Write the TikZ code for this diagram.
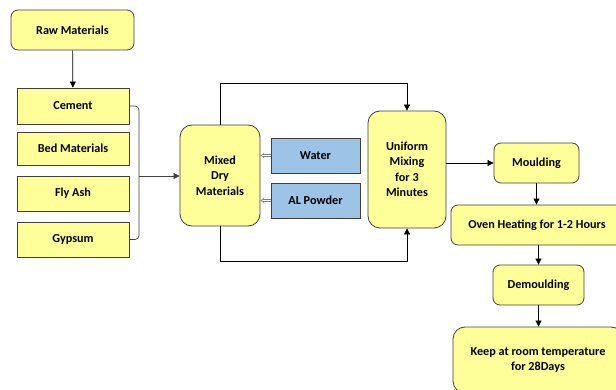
\documentclass[tikz,border=0pt]{standalone}
\usepackage{fontspec}
\setmainfont{Carlito}
\usetikzlibrary{arrows.meta}

\definecolor{boxyellow}{HTML}{FFFF99}
\definecolor{boxblue}{HTML}{9DC3E6}
\definecolor{boxline}{HTML}{3F3F3F}

\begin{document}
\begin{tikzpicture}[x=1pt,y=-1pt,
    font=\fontsize{12.2}{15.5}\selectfont\bfseries,
    stepbox/.style={draw=boxline,line width=0.8pt,fill=boxyellow,rounded corners=7pt,align=center,inner sep=0pt},
    itembox/.style={draw=boxline,line width=0.8pt,fill=boxyellow,inner sep=0pt,align=center},
    addbox/.style={draw=boxline,line width=0.8pt,fill=boxblue,inner sep=0pt,align=center},
    flow/.style={line width=0.7pt,-{Triangle[length=6pt,width=6pt]}},
    feed/.style={draw=gray,double=white,double distance=1.4pt,line width=0.6pt,-{Implies}}]
    \useasboundingbox (0,0) rectangle (616,390);
    \fill[white] (0,0) rectangle (616,390);

    % raw materials and the four components
    \node[stepbox,minimum width=123pt,minimum height=40pt] (raw) at (72.5,30) {Raw Materials};
    \node[itembox,minimum width=112pt,minimum height=36pt] (cement) at (73,106) {Cement};
    \node[itembox,minimum width=112pt,minimum height=33pt] (bed) at (73,148.5) {Bed Materials};
    \node[itembox,minimum width=112pt,minimum height=35pt] (flyash) at (73,193.5) {Fly Ash};
    \node[itembox,minimum width=112pt,minimum height=35pt] (gypsum) at (73,239.5) {Gypsum};

    % mixing stage
    \node[stepbox,rounded corners=12pt,minimum width=80pt,minimum height=101pt] (mixed) at (220,175.5) {Mixed\\Dry\\Materials};
    \node[addbox,minimum width=89pt,minimum height=35pt] (water) at (315.5,155.5) {Water};
    \node[addbox,minimum width=89pt,minimum height=35pt] (alpowder) at (315.5,200.5) {AL Powder};
    \node[stepbox,rounded corners=12pt,minimum width=78pt,minimum height=117pt] (uniform) at (407,169.5) {Uniform\\Mixing\\for 3\\Minutes};

    % curing stage
    \node[stepbox,minimum width=85pt,minimum height=40pt] (moulding) at (536.5,163) {Moulding};
    \node[stepbox,minimum width=172pt,minimum height=40pt] (oven) at (537,225) {Oven Heating for 1-2 Hours};
    \node[stepbox,minimum width=91pt,minimum height=40pt] (demoulding) at (538.5,285) {Demoulding};
    \node[stepbox,rounded corners=12pt,minimum width=170pt,minimum height=66pt] (keep) at (538,360) {Keep at room temperature\\for 28Days};

    \draw[flow] (raw) -- (cement);

    % bracket joining the components
    \coordinate (tip) at (145,176);
    \draw[boxline,line width=0.7pt,rounded corners=4pt] (cement.east) -- (139,106) -- (139,239.5) -- (gypsum.east);
    \draw[boxline,line width=0.7pt] (139,176) -- (tip);
    \draw[flow,draw=boxline] (tip) -- (tip -| mixed.west);

    \draw[feed] (water.west) -- (water.west -| mixed.east);
    \draw[feed] (alpowder.west) -- (alpowder.west -| mixed.east);

    \draw[flow] (mixed.north) -- (mixed.north |- 0,83) -| (uniform.north);
    \draw[flow] (mixed.south) -- (mixed.south |- 0,261) -| (uniform.south);

    \draw[flow] (uniform.east |- moulding.west) -- (moulding.west);
    \draw[flow] (moulding.south) -- (moulding.south |- oven.north);
    \draw[flow] (oven.south -| demoulding.north) -- (demoulding.north);
    \draw[flow] (demoulding.south) -- (demoulding.south |- keep.north);
\end{tikzpicture}
\end{document}
